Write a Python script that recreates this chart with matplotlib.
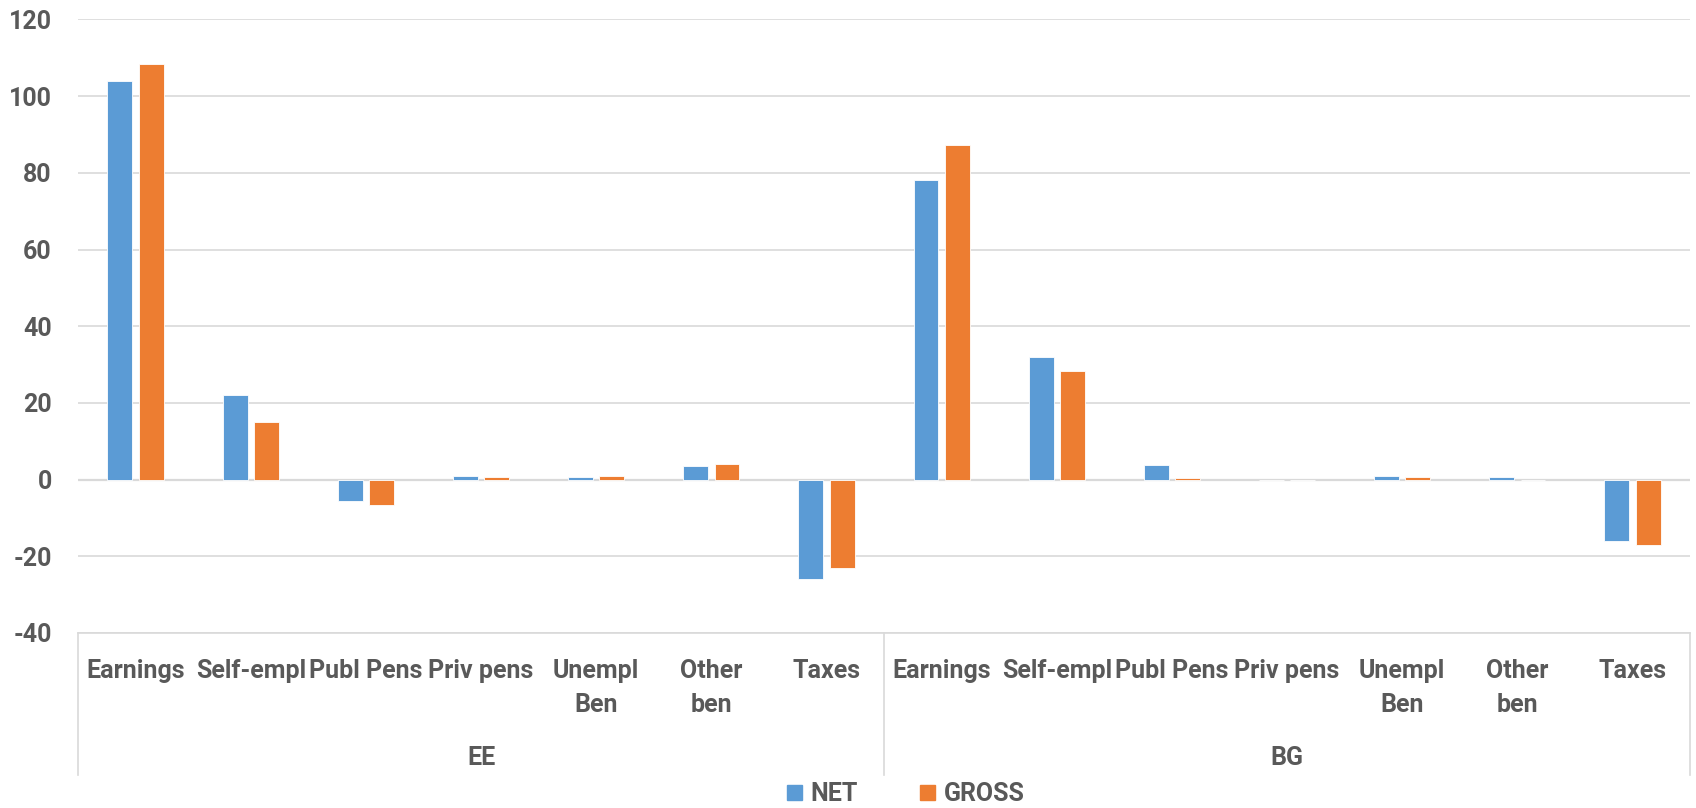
import matplotlib
matplotlib.use("Agg")
import matplotlib.pyplot as plt
import matplotlib.transforms as mtransforms
from matplotlib.patches import Patch
import numpy as np

# Income components, net vs gross, for two countries
groups = ["EE", "BG"]
components = ["Earnings", "Self-empl", "Publ Pens", "Priv pens",
              "Unempl\nBen", "Other\nben", "Taxes"]
net_ee = [104, 22, -5.5, 1.0, 0.8, 3.6, -26]
gross_ee = [108.5, 15, -6.5, 0.6, 0.9, 4.0, -23]
net_bg = [78.2, 32.1, 3.8, 0.0, 1.0, 0.6, -16]
gross_bg = [87.2, 28.4, 0.3, 0.0, 0.7, 0.0, -17]

net = net_ee + net_bg
gross = gross_ee + gross_bg
labels = components * len(groups)

blue = "#5B9BD5"
orange = "#ED7D31"
text_col = "#595959"
grid_col = "#D9D9D9"
fs = 18

plt.rcParams['font.family'] = ['Roboto', 'DejaVu Sans']
plt.rcParams['font.weight'] = 'bold'
plt.rcParams['axes.unicode_minus'] = False

fig = plt.figure(figsize=(16.96, 8.08), dpi=100)
ax = fig.add_axes([0.046, 0.2166, 0.9505, 0.7593])

x = np.arange(len(net))
w = 0.216
off = 0.136
ax.bar(x - off, net, w, color=blue, edgecolor="white", linewidth=0.6, zorder=3)
ax.bar(x + off, gross, w, color=orange, edgecolor="white", linewidth=0.6, zorder=3)

ax.set_xlim(-0.5, len(net) - 0.5)
ax.set_ylim(-40, 120)
ax.set_yticks(np.arange(-40, 121, 20))
ax.yaxis.grid(True, color=grid_col, linewidth=1.2, zorder=0)
ax.tick_params(axis='y', length=0, pad=19, labelsize=fs, labelcolor=text_col)
for t in ax.get_yticklabels():
    t.set_fontweight("bold")
ax.set_xticks([])
for s in ["top", "right", "left"]:
    ax.spines[s].set_visible(False)
ax.spines["bottom"].set_color(grid_col)
ax.spines["bottom"].set_linewidth(1.2)
ax.axhline(0, color=grid_col, linewidth=1.6, zorder=2)

# category labels in two rows
tr = mtransforms.blended_transform_factory(ax.transData, ax.transAxes)
for i, lab in enumerate(labels):
    for j, line in enumerate(lab.split("\n")):
        ax.text(i, -0.062 - 0.0555 * j, line, transform=tr, ha="center",
                va="center", fontsize=fs, color=text_col, fontweight="bold")

n = len(components)
for g, name in enumerate(groups):
    ax.text(g * n + (n - 1) / 2, -0.2037, name, transform=tr, ha="center",
            va="center", fontsize=fs, color=text_col, fontweight="bold")

# group separators of the category box
for xb in [-0.5, n - 0.5, 2 * n - 0.5]:
    ax.plot([xb, xb], [0, -0.2315], transform=tr, color=grid_col,
            linewidth=1.2, clip_on=False)

handles = [Patch(color=blue, label="NET"), Patch(color=orange, label="GROSS")]
fig.legend(handles=handles, loc="center", bbox_to_anchor=(0.534, 0.017),
           ncol=2, frameon=False, handlelength=0.6,
           handleheight=0.6, columnspacing=2.5, handletextpad=0.35,
           labelcolor=text_col, prop={"weight": "bold", "size": fs})

fig.savefig("out.png", dpi=100)
